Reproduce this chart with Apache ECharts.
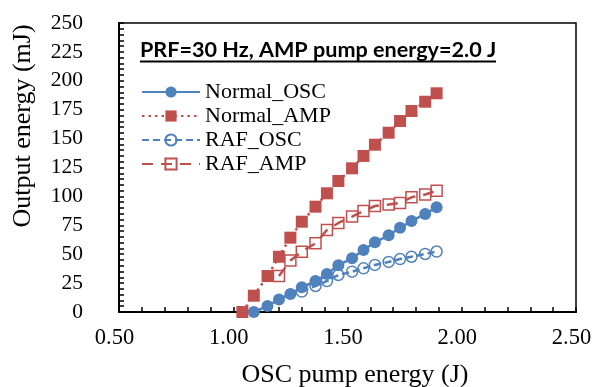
<!DOCTYPE html>
<html>
<head>
<meta charset="utf-8">
<script src="https://cdn.jsdelivr.net/npm/echarts@6/dist/echarts.min.js"></script>
<style>
html,body{margin:0;padding:0;background:#fff;}
#chart{width:597px;height:387px;}
</style>
</head>
<body>
<div id="chart"></div>
<script>
// OSC pump energy (J)
const pumpEnergy = [1.04,1.09,1.15,1.20,1.25,1.30,1.36,1.41,1.46,1.52,1.57,1.62,1.68,1.73,1.78,1.84,1.89];
// Output energy (mJ)
const normalOSC = [null,0,5.2,10.9,15.6,21.4,26.8,32.9,40.5,46.4,53.6,60.3,66.3,72.9,78.7,84.8,90.6];
const normalAMP = [0,14.1,31.1,47.8,64.3,78.1,91.1,102.7,113.3,124.3,135,144.7,155.1,165.2,173.9,181.9,189.2];
const rafOSC = [null,null,null,null,null,17.7,22.5,26.8,32.0,34.9,37.8,40.7,43.3,45.8,47.8,50.2,52.3];
const rafAMP = [null,null,null,31.1,44.5,52.2,59.4,70.9,77.0,82.6,87.4,91.7,93.0,94.3,99.2,101.6,104.9];
const seriesNames = ['Normal_OSC','Normal_AMP','RAF_OSC','RAF_AMP'];
const xTicks = {min:0.5,max:2.5,interval:0.5};
const yTicks = {min:0,max:250,interval:25};
const titleText = 'PRF=30 Hz, AMP pump energy=2.0 J';
const xTitle = 'OSC pump energy (J)';
const yTitle = 'Output energy (mJ)';

const BLUE = '#4F81BD', RED = '#C0504D';
const serif = '"Times New Roman","Liberation Serif",serif';

function pairs(ys){
  const out=[];
  ys.forEach((y,i)=>{ if(y!==null) out.push([pumpEnergy[i], y]); });
  return out;
}

const chart = echarts.init(document.getElementById('chart'), null, {renderer:'canvas'});
chart.setOption({
  animation:false,
  backgroundColor:'#fff',
  grid:{left:119,right:21,top:23,bottom:75,show:true,borderColor:'#000',borderWidth:1.5,containLabel:false},
  xAxis:{
    type:'value',min:xTicks.min,max:xTicks.max,interval:xTicks.interval,
    axisLine:{show:true,onZero:false,lineStyle:{color:'#000',width:2}},
    axisTick:{show:true,inside:true,length:5,lineStyle:{color:'#000',width:1.5}},
    minorTick:{show:true,splitNumber:5,length:5,lineStyle:{color:'#000',width:1.5}},
    splitLine:{show:false},
    axisLabel:{color:'#000',fontFamily:serif,fontSize:22.5,margin:15,padding:[0,9,0,0],formatter:v=>v.toFixed(2)}
  },
  yAxis:{
    type:'value',min:yTicks.min,max:yTicks.max,interval:yTicks.interval,
    axisLine:{show:true,onZero:false,lineStyle:{color:'#000',width:2}},
    axisTick:{show:true,inside:true,length:5,lineStyle:{color:'#000',width:1.5}},
    minorTick:{show:true,splitNumber:5,length:5,lineStyle:{color:'#000',width:1.5}},
    splitLine:{show:false},
    axisLabel:{color:'#000',fontFamily:serif,fontSize:21.5,margin:36}
  },
  legend:{
    orient:'vertical',left:141,top:81,padding:0,
    itemWidth:58,itemHeight:14,itemGap:2,
    textStyle:{color:'#000',fontFamily:serif,fontSize:22},
    data:seriesNames
  },
  graphic:[
    {type:'text',left:140,top:39.5,style:{text:titleText,font:'bold 21.6px Lato, "Open Sans", sans-serif',fill:'#000'}},
    {type:'line',shape:{x1:140,y1:61.5,x2:496,y2:61.5},style:{stroke:'#000',lineWidth:2}},
    {type:'text',x:23,y:126,rotation:Math.PI/2,style:{text:yTitle,font:'26px '+serif,fill:'#000',textAlign:'center',textVerticalAlign:'middle'}},
    {type:'text',x:355,y:375,style:{text:xTitle,font:'26px '+serif,fill:'#000',textAlign:'center',textVerticalAlign:'middle'}}
  ],
  series:[
    {name:seriesNames[0],type:'line',data:pairs(normalOSC),symbol:'circle',symbolSize:12,
     lineStyle:{color:BLUE,width:2.5,type:'solid'},itemStyle:{color:BLUE}},
    {name:seriesNames[1],type:'line',data:pairs(normalAMP),symbol:'rect',symbolSize:12,
     lineStyle:{color:RED,width:2.5,type:[2.5,4]},itemStyle:{color:RED}},
    {name:seriesNames[2],type:'line',data:pairs(rafOSC),symbol:'circle',symbolSize:11,
     lineStyle:{color:BLUE,width:2.5,type:[7,4]},itemStyle:{color:'rgba(255,255,255,0)',borderColor:BLUE,borderWidth:1.5}},
    {name:seriesNames[3],type:'line',data:pairs(rafAMP),symbol:'rect',symbolSize:11,
     lineStyle:{color:RED,width:2.5,type:[11,8]},itemStyle:{color:'rgba(255,255,255,0)',borderColor:RED,borderWidth:1.5}}
  ]
});
</script>
</body>
</html>
